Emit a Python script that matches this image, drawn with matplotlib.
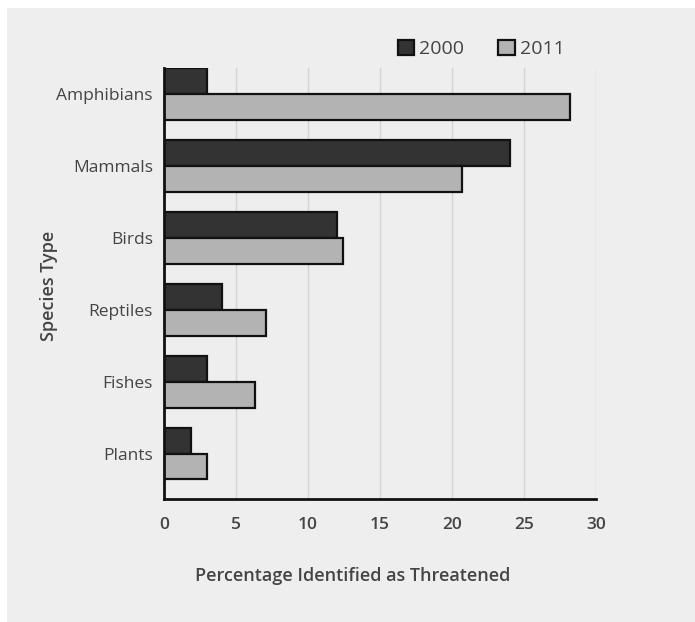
import matplotlib
matplotlib.use("Agg")
import matplotlib.pyplot as plt
import numpy as np
from matplotlib.patches import Rectangle

categories = ["Amphibians", "Mammals", "Birds", "Reptiles", "Fishes", "Plants"]
values_2000 = [3.0, 24.0, 12.0, 4.0, 3.0, 1.9]
values_2011 = [28.2, 20.7, 12.4, 7.1, 6.3, 3.0]
series_labels = ["2000", "2011"]
xticks = [0, 5, 10, 15, 20, 25, 30]

plt.rcParams['font.family'] = ['Open Sans', 'DejaVu Sans']
W, H = 695, 622
fig = plt.figure(figsize=(W/100, H/100), dpi=100)
fig.patch.set_facecolor('white')
fig.add_artist(Rectangle((7/W, 0), 1, 1 - 8/H, transform=fig.transFigure,
                         facecolor='#eeeeee', edgecolor='none', zorder=-10))

ax = fig.add_axes([164/W, 1-499/H, (596-164)/W, (499-68)/H])
ax.patch.set_alpha(0)

y = np.arange(len(categories))
h = 0.36
tc = '#444444'
ax.barh(y - h/2, values_2000, height=h, color='#333333', edgecolor='#111111',
        linewidth=1.6, label=series_labels[0], zorder=3)
ax.barh(y + h/2, values_2011, height=h, color='#b3b3b3', edgecolor='#111111',
        linewidth=1.6, label=series_labels[1], zorder=3)

ax.set_xlim(0, 30)
ax.set_ylim(5.632, -0.362)
ax.set_xticks(xticks)
ax.set_xticklabels([str(t) for t in xticks], fontsize=12.5, color=tc, fontweight='semibold')
ax.set_yticks(y)
ax.set_yticklabels(categories, fontsize=12.5, color=tc)
ax.tick_params(axis='both', length=0)
ax.tick_params(axis='x', pad=13)
ax.tick_params(axis='y', pad=8)
ax.grid(axis='x', color='#d3d3d3', linewidth=1, zorder=0)
ax.set_axisbelow(True)
for s in ['top', 'right']:
    ax.spines[s].set_visible(False)
for s in ['left', 'bottom']:
    ax.spines[s].set_linewidth(2)
    ax.spines[s].set_color('#111111')
    ax.spines[s].set_zorder(4)

fig.text(353/W, 1-576/H, "Percentage Identified as Threatened", ha='center', va='center',
         fontsize=13, color=tc, fontweight='semibold')
fig.text(49/W, 1-286/H, "Species Type", ha='center', va='center', rotation=90,
         fontsize=13, color=tc, fontweight='semibold')

leg = fig.legend(loc='center', bbox_to_anchor=(481/W, 1-49/H), ncol=2, frameon=False,
                 fontsize=14, handlelength=0.85, handleheight=0.85, handletextpad=0.25,
                 columnspacing=1.75, labelcolor=tc)

fig.savefig("out.png", dpi=100, facecolor=fig.get_facecolor())
